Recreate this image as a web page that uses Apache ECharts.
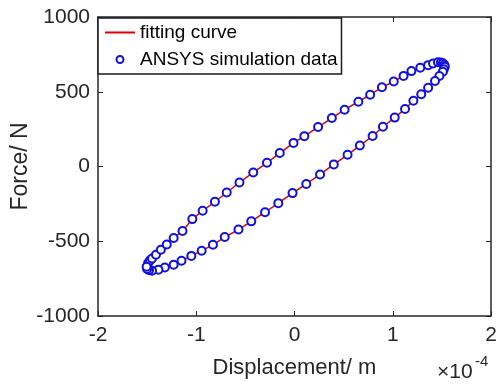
<!DOCTYPE html>
<html>
<head>
<meta charset="utf-8">
<script src="https://cdn.jsdelivr.net/npm/echarts@6/dist/echarts.min.js"></script>
<style>
  html, body { margin: 0; padding: 0; background: #fff; }
  #main { width: 498px; height: 385px; }
</style>
</head>
<body>
<div id="main"></div>
<script>
// displacement in units of 1e-4 m, force in N (one loop)
const dispE4 = [
  -1.50, -1.49, -1.47, -1.45, -1.41, -1.36, -1.30, -1.23, -1.14, -1.04,
  -0.935, -0.81, -0.69, -0.56, -0.42, -0.28, -0.15, -0.01, 0.10, 0.24,
  0.38, 0.51, 0.65, 0.77, 0.89, 1.01, 1.11, 1.19, 1.28, 1.36,
  1.41, 1.46, 1.49, 1.51, 1.525, 1.53,
  1.52, 1.51, 1.475, 1.43, 1.36, 1.29, 1.21, 1.125, 1.02, 0.90,
  0.795, 0.665, 0.54, 0.40, 0.26, 0.12, -0.02, -0.165, -0.30, -0.44,
  -0.57, -0.71, -0.83, -0.945, -1.05, -1.15, -1.23, -1.32, -1.385, -1.45,
  -1.48, -1.50, -1.505
];
const forceN = [
  -670, -645, -628, -615, -590, -557, -522, -478, -432, -352,
  -296, -236, -174, -107, -40, 25, 90, 158, 203, 264,
  324, 380, 433, 480, 530, 568, 606, 638, 660, 678,
  689, 697, 696, 690, 680, 668,
  650, 634, 605, 572, 527, 483, 440, 385, 327, 266,
  204, 140, 78, 14, -53, -117, -178, -245, -306, -367,
  -422, -472, -524, -563, -598, -630, -657, -676, -690, -697,
  -693, -685, -670
];
const xTicks = [-2, -1, 0, 1, 2];
const yTicks = [-1000, -500, 0, 500, 1000];

const pts = dispE4.map((x, i) => [x, forceN[i]]);
const loop = pts.concat([pts[0]]);

const font = 'Liberation Sans, Arial, sans-serif';
const axisColor = '#262626';
const red = '#e00000';
const blue = '#1010e0';

const chart = echarts.init(document.getElementById('main'));
const option = {
  animation: false,
  grid: { left: 98, right: 7, top: 17, bottom: 69, outerBoundsMode: 'none', containLabel: false },
  legend: {
    left: 98,
    top: 18,
    orient: 'vertical',
    backgroundColor: '#fff',
    borderColor: '#1a1a1a',
    borderWidth: 1.5,
    padding: [5, 4, 5, 7],
    itemWidth: 30,
    itemHeight: 7,
    itemGap: 8,
    textStyle: { fontFamily: font, fontSize: 19, color: '#000', lineHeight: 18 },
    data: [
      { name: 'fitting curve', icon: 'path://M0 0 H30 V2 H0 Z', itemStyle: { color: red, borderWidth: 0 } },
      { name: 'ANSYS simulation data', icon: 'emptyCircle' }
    ]
  },
  xAxis: [
    {
      type: 'value',
      min: xTicks[0], max: xTicks[xTicks.length - 1], interval: 1,
      name: 'Displacement/ m',
      nameLocation: 'middle',
      nameGap: 41,
      nameMoveOverlap: false,
      nameTextStyle: { fontFamily: font, fontSize: 22, color: axisColor },
      axisLine: { onZero: false, lineStyle: { color: axisColor, width: 1.5 } },
      axisTick: { inside: true, length: 5, lineStyle: { color: axisColor } },
      axisLabel: { fontFamily: font, fontSize: 21, color: axisColor, margin: 9, formatter: v => String(v) },
      splitLine: { show: false }
    },
    {
      type: 'value', position: 'top',
      min: xTicks[0], max: xTicks[xTicks.length - 1], interval: 1,
      axisLine: { onZero: false, lineStyle: { color: axisColor, width: 1.5 } },
      axisTick: { inside: true, length: 5, lineStyle: { color: axisColor } },
      axisLabel: { show: false },
      splitLine: { show: false }
    }
  ],
  yAxis: [
    {
      type: 'value',
      min: yTicks[0], max: yTicks[yTicks.length - 1], interval: 500,
      name: 'Force/ N',
      nameLocation: 'middle',
      nameGap: 66,
      nameMoveOverlap: false,
      nameTextStyle: { fontFamily: font, fontSize: 23, color: axisColor },
      axisLine: { onZero: false, lineStyle: { color: axisColor, width: 1.5 } },
      axisTick: { inside: true, length: 5, lineStyle: { color: axisColor } },
      axisLabel: { fontFamily: font, fontSize: 21, color: axisColor, margin: 8, formatter: v => String(v) },
      splitLine: { show: false }
    },
    {
      type: 'value', position: 'right',
      min: yTicks[0], max: yTicks[yTicks.length - 1], interval: 500,
      axisLine: { onZero: false, lineStyle: { color: axisColor, width: 1.5 } },
      axisTick: { inside: true, length: 5, lineStyle: { color: axisColor } },
      axisLabel: { show: false },
      splitLine: { show: false }
    }
  ],
  series: [
    {
      name: 'fitting curve',
      type: 'line',
      data: loop,
      symbol: 'none',
      smooth: false,
      lineStyle: { color: red, width: 1.5 },
      itemStyle: { color: red },
      z: 2
    },
    {
      name: 'ANSYS simulation data',
      type: 'scatter',
      data: pts,
      symbol: 'emptyCircle',
      symbolSize: 8,
      itemStyle: { color: blue, borderColor: blue, borderWidth: 1.8, opacity: 1 },
      z: 3
    }
  ],
  graphic: [
    { type: 'text', left: 437, top: 362,
      style: { text: '×10', font: '21px ' + font, fill: axisColor } },
    { type: 'text', left: 475, top: 354,
      style: { text: '-4', font: '15px ' + font, fill: axisColor } }
  ]
};
chart.setOption(option);
</script>
</body>
</html>
